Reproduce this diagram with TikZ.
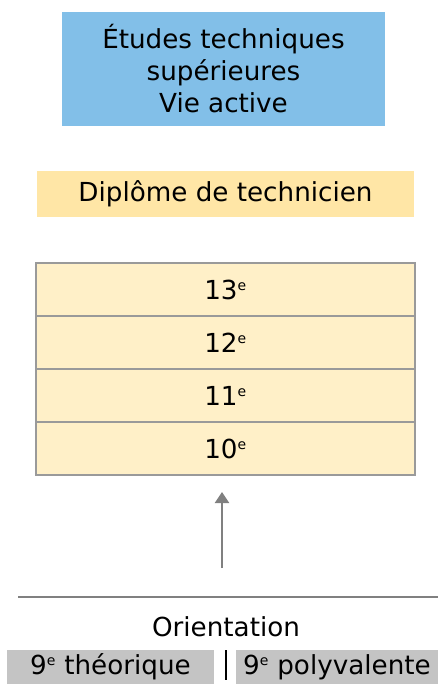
\documentclass[tikz,border=0pt]{standalone}
\usepackage{fontspec}
\setmainfont{DejaVu Sans}
\usetikzlibrary{arrows.meta}
\definecolor{blueb}{HTML}{82BFE8}
\definecolor{dipl}{HTML}{FFE6A6}
\definecolor{grade}{HTML}{FFF0C8}
\definecolor{gradeb}{HTML}{9A9A9A}
\definecolor{grayb}{HTML}{C4C4C4}
\definecolor{arr}{HTML}{808080}
\newcommand{\supe}{\textsuperscript{\fontsize{14}{14}\selectfont e}}
\begin{document}
\begin{tikzpicture}[x=1pt,y=-1pt,
  txt/.style={font=\fontsize{26.2}{32}\selectfont, text=black, inner sep=0pt, align=center},
  gradebox/.style={txt, fill=grade, draw=gradeb, line width=1.6pt, minimum width=379pt, minimum height=53pt},
]
\useasboundingbox (0,0) rectangle (438,684);
\node[txt, fill=blueb, minimum width=323pt, minimum height=114pt] (etud) at (223.5,69) {Études techniques\\supérieures\\Vie active};
\node[txt, fill=dipl, minimum width=377pt, minimum height=46pt] (dipl) at (225.5,194) {Diplôme de technicien};
\node[gradebox] (g13) at (225.5,289.5) {13\supe};
\node[gradebox] (g12) at (225.5,342.5) {12\supe};
\node[gradebox] (g11) at (225.5,395.5) {11\supe};
\node[gradebox] (g10) at (225.5,448.5) {10\supe};
\coordinate (astart) at (222,568);
\coordinate (aend) at (222,492);
\draw[arr, line width=2pt, -{Triangle[width=14pt,length=11pt]}] (astart) -- (aend);
\coordinate (hl) at (18,597);
\coordinate (hr) at (438,597);
\draw[arr, line width=2pt] (hl) -- (hr);
\node[txt] (orient) at (226,627) {Orientation};
\node[txt, fill=grayb, minimum width=207pt, minimum height=34pt] (theo) at (110.5,667) {9\supe\ théorique};
\node[txt, fill=grayb, minimum width=202pt, minimum height=34pt] (poly) at (337,667) {9\supe\ polyvalente};
\coordinate (vt) at (226,650);
\coordinate (vb) at (226,680);
\draw[black, line width=2pt] (vt) -- (vb);
\end{tikzpicture}
\end{document}
